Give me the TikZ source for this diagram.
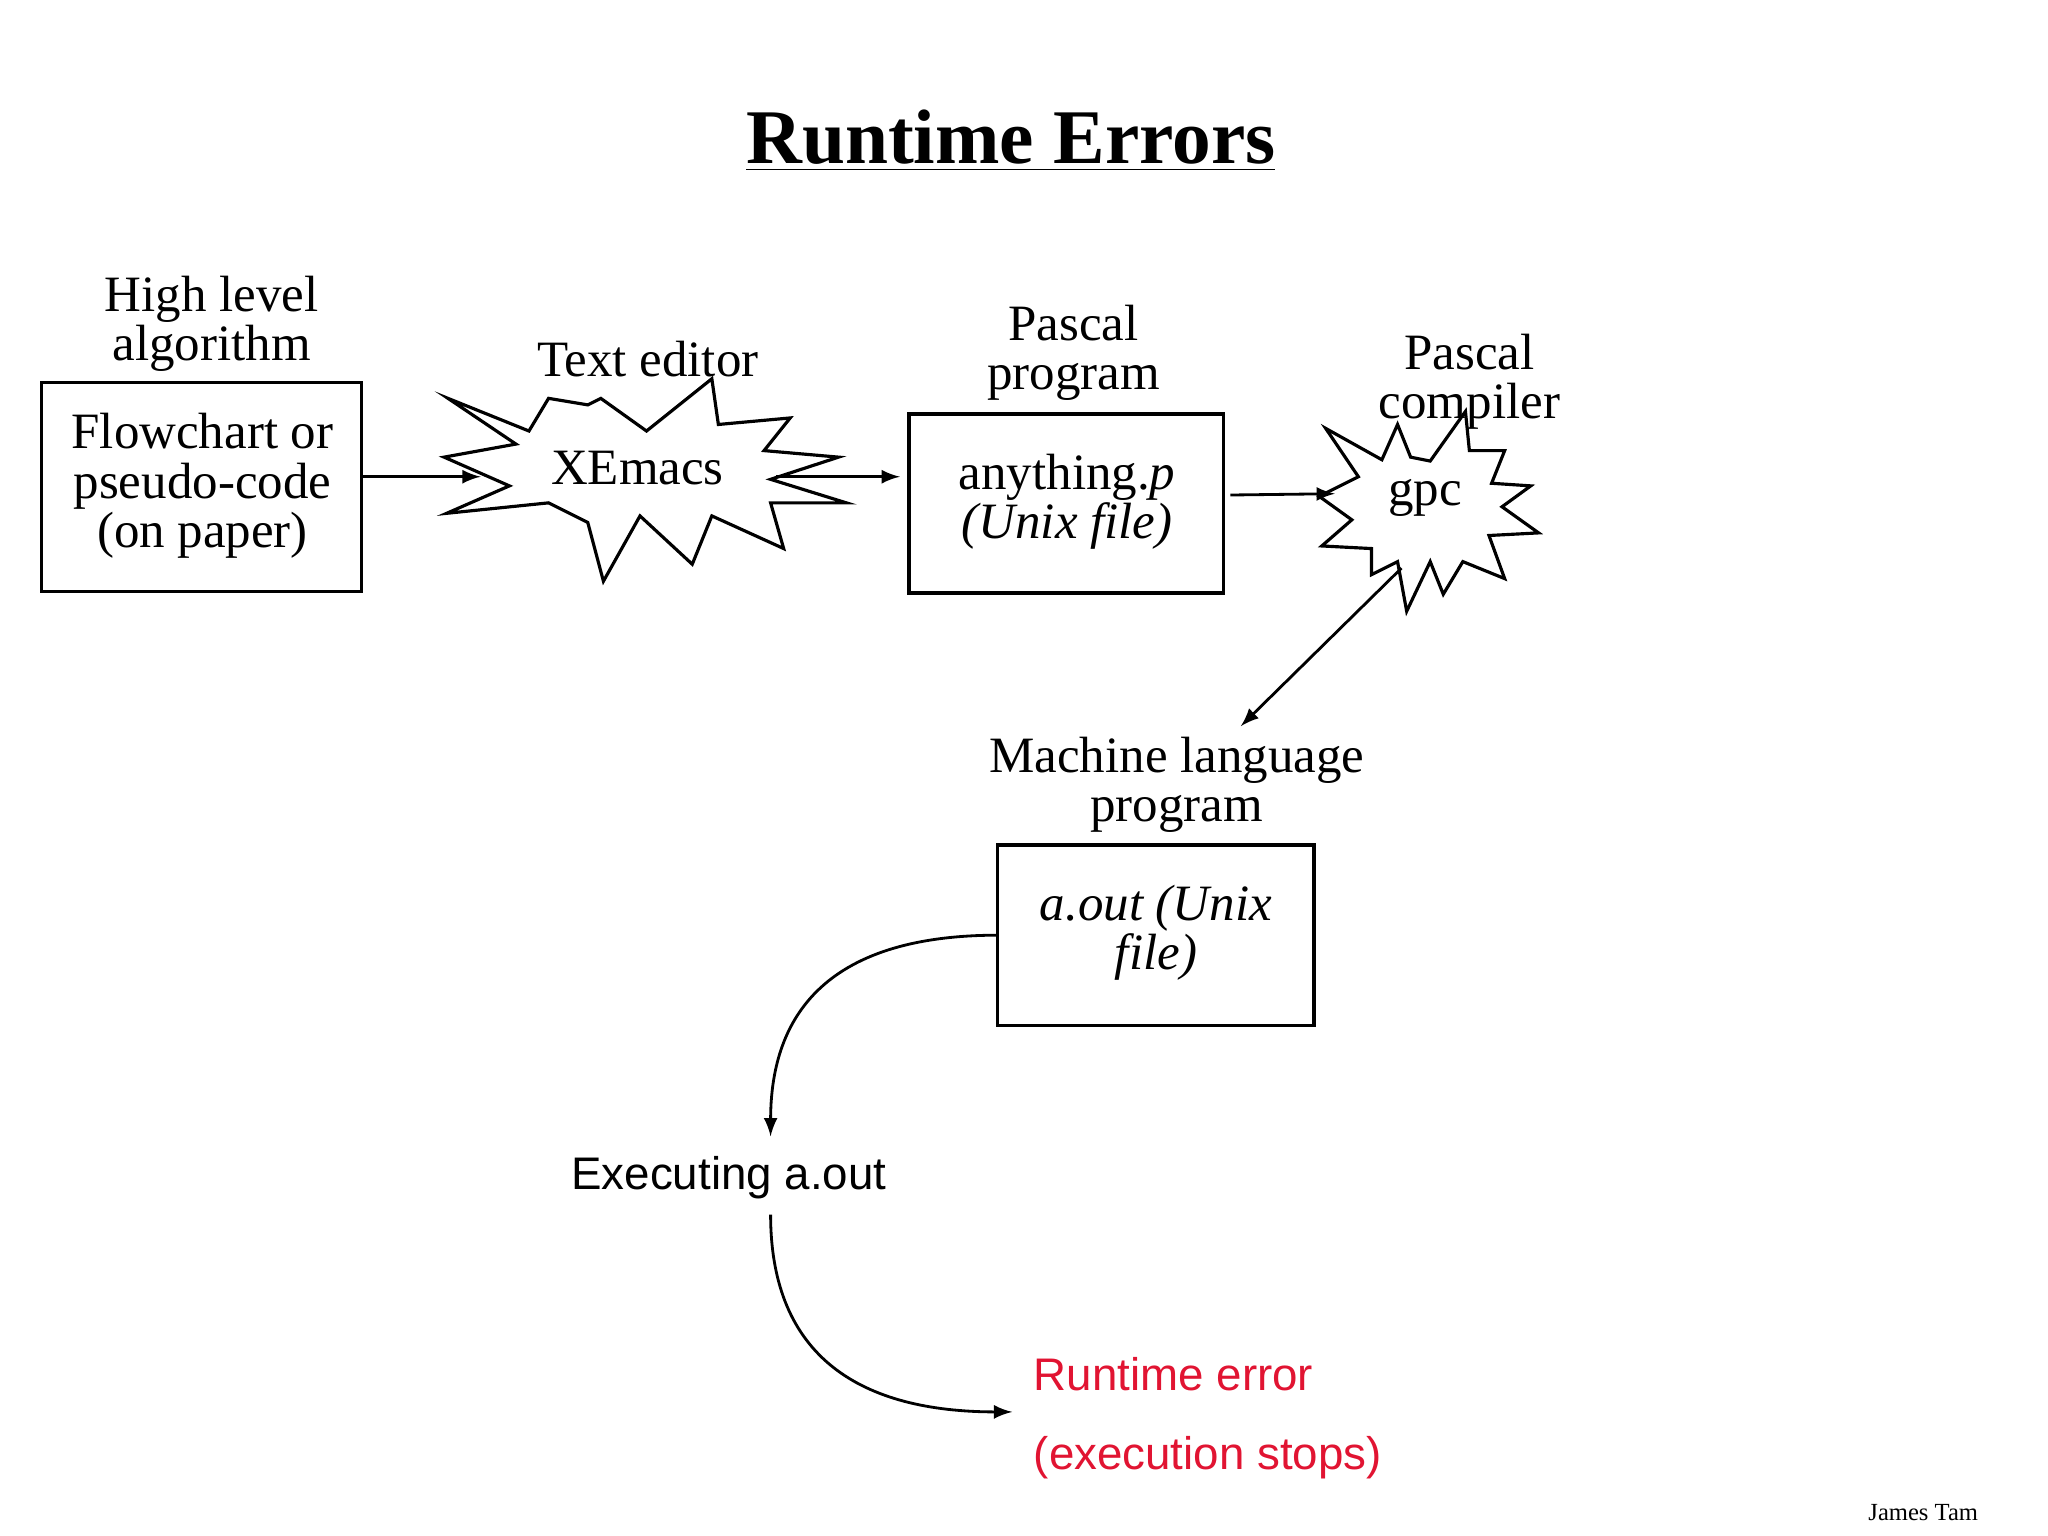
\documentclass[tikz,border=0pt]{standalone}
\usepackage{fontspec}
\setmainfont{Liberation Serif}
\newfontfamily\sansf{Liberation Sans}
\begin{document}
\begin{tikzpicture}[x=0.01306cm,y=-0.01306cm,
  box/.style={draw,thick,line width=0.9pt},
  lbl/.style={font=\fontsize{14.5}{14}\selectfont,align=center,inner sep=0pt},
  arr/.style={-latex,line width=0.8pt},
  star/.style={draw,line width=0.9pt,fill=white}]
\useasboundingbox (0,0) rectangle (1568,1176);
\node[font=\bfseries\fontsize{22}{24}\selectfont] (title) at (774,108) {\underline{Runtime Errors}};
% boxes
\draw[box] (32,293) rectangle (277,453);
\node[lbl] (b1) at (155,372) {Flowchart or\\pseudo-code\\(on paper)};
\node[lbl] (l1) at (162,248) {High level\\algorithm};
\coordinate (b1r) at (277,365);
\draw[box] (696,317) rectangle (937,454);
\node[lbl] (b2) at (817,384) {anything.\textit{p}\\\textit{(Unix file)}};
\node[lbl] (l2) at (822,270) {Pascal\\program};
\draw[box] (764,647) rectangle (1006,785);
\node[lbl] (b3) at (885,714) {\textit{a.out (Unix}\\\textit{file)}};
\node[lbl] (l3) at (901,601) {Machine language\\program};
% XEmacs star
\draw[star] (343,305) -- (405,330) -- (420,305) -- (450,310) -- (460,305) -- (495,330) -- (545,290) -- (550,325) -- (605,320) -- (585,345) -- (642,350) -- (590,367) -- (648,385) -- (590,385) -- (600,420) -- (545,395) -- (530,432) -- (490,395) -- (462,445) -- (450,400) -- (420,385) -- (342,393) -- (390,372) -- (340,350) -- (395,340) -- cycle;
\node[lbl] (xe) at (488,358) {XEmacs};
\node[lbl] (l4) at (496,275) {Text editor};
% gpc star
\draw[star] (1015,328) -- (1058,352) -- (1070,325) -- (1080,350) -- (1095,353) -- (1122,315) -- (1125,345) -- (1152,345) -- (1142,370) -- (1172,372) -- (1150,388) -- (1178,408) -- (1140,410) -- (1152,443) -- (1120,430) -- (1105,455) -- (1095,430) -- (1077,468) -- (1070,430) -- (1050,440) -- (1050,420) -- (1012,418) -- (1035,398) -- (1010,380) -- (1040,365) -- cycle;
\node[lbl] (gpc) at (1091,381) {gpc};
\node[lbl] (l5) at (1125,292) {Pascal\\compiler};
% arrows
\draw[arr] (b1r) -- (368,365);
\coordinate (x1) at (594,365); \coordinate (x2) at (689,365);
\draw[arr] (x1) -- (x2);
\coordinate (p1) at (942,379); \coordinate (p2) at (1022,378);
\draw[arr] (p1) -- (p2);
\coordinate (g1) at (1073,435); \coordinate (g2) at (950,556);
\draw[arr] (g1) -- (g2);
\node[font=\sansf\fontsize{13}{14}\selectfont,inner sep=0pt] (ex) at (558,902) {Executing a.out};
\node[font=\sansf\fontsize{13}{14}\selectfont,inner sep=0pt,text={rgb,255:red,225;green,20;blue,50},anchor=west] (re) at (791,1052) {Runtime error};
\node[font=\sansf\fontsize{13}{14}\selectfont,inner sep=0pt,text={rgb,255:red,225;green,20;blue,50},anchor=west] (re2) at (791,1116) {(execution stops)};
\coordinate (a1) at (764,716); \coordinate (a2) at (590,870);
\draw[arr] (a1) .. controls (620,716) and (590,790) .. (a2);
\coordinate (e1) at (590,930); \coordinate (e2) at (775,1081);
\draw[arr] (e1) .. controls (590,1040) and (660,1081) .. (e2);
\node[font=\fontsize{7}{8}\selectfont,anchor=east,inner sep=0pt] (jt) at (1515,1158) {James Tam};
\end{tikzpicture}
\end{document}
